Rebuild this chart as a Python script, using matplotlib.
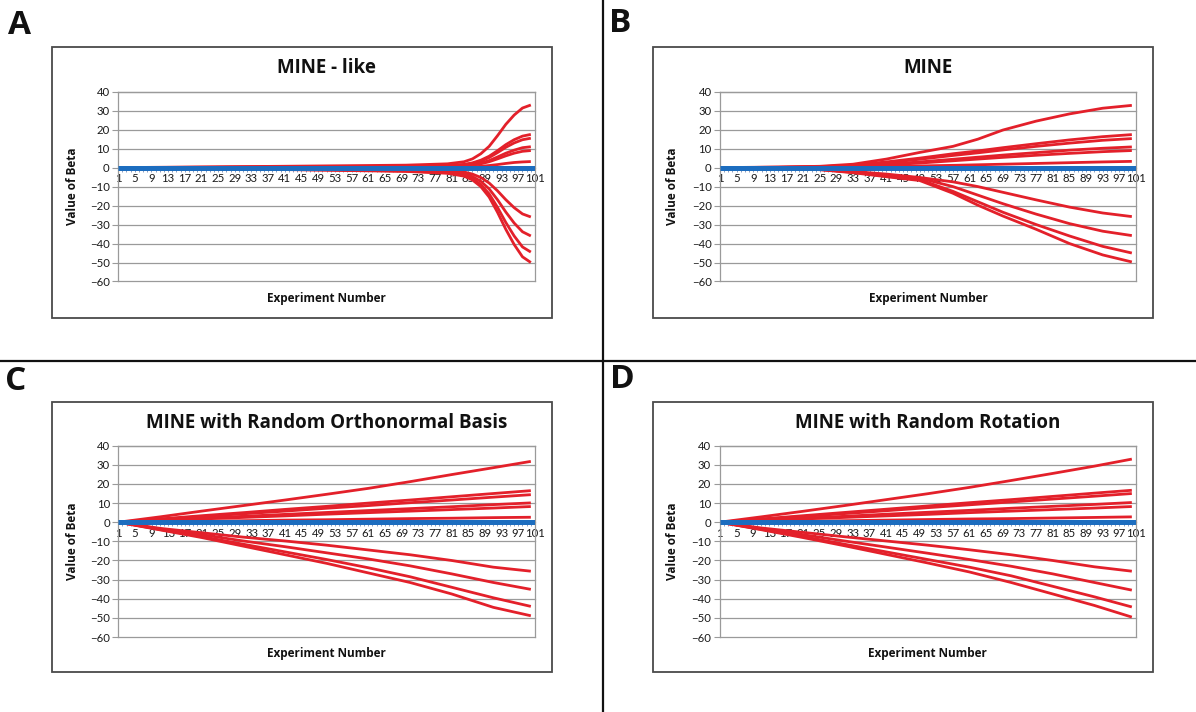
import matplotlib
matplotlib.use("Agg")
import matplotlib.pyplot as plt
from matplotlib.patches import Rectangle
from matplotlib.lines import Line2D
import numpy as np

plt.rcParams['font.family'] = ['Open Sans', 'DejaVu Sans']

# ---- data ----
blue_x = [1, 101]
blue_y = [0, 0]

# A : MINE - like (sigmoid near the end)
a_x = [1, 40, 70, 80, 84, 86, 88, 90, 92, 94, 96, 98, 100]
a_lines = [
    [0, 0.7, 1.3, 2.0, 3.1, 4.6, 7.3, 11.2, 16.8, 22.8, 27.7, 31.4, 33.0],
    [0, 0.4, 0.7, 1.1, 1.7, 2.5, 3.9, 6.0, 8.9, 12.1, 14.7, 16.6, 17.5],
    [0, 0.3, 0.6, 0.9, 1.5, 2.2, 3.4, 5.3, 7.9, 10.7, 13.0, 14.7, 15.5],
    [0, 0.2, 0.4, 0.7, 1.0, 1.5, 2.4, 3.7, 5.6, 7.6, 9.2, 10.5, 11.0],
    [0, 0.2, 0.4, 0.5, 0.9, 1.3, 2.0, 3.1, 4.6, 6.2, 7.6, 8.6, 9.0],
    [0, 0.1, 0.1, 0.2, 0.3, 0.4, 0.7, 1.1, 1.6, 2.2, 2.7, 3.0, 3.2],
    [0, -0.5, -1.0, -1.6, -2.3, -3.4, -5.2, -8.1, -12.2, -16.9, -21.1, -24.4, -26.0],
    [0, -0.7, -1.4, -2.2, -3.2, -4.7, -7.2, -11.2, -16.9, -23.4, -29.2, -33.8, -36.0],
    [0, -0.9, -1.8, -2.7, -4.0, -5.8, -8.9, -13.8, -20.9, -28.9, -36.0, -41.8, -44.5],
    [0, -1.0, -2.0, -3.0, -4.5, -6.5, -10.0, -15.5, -23.5, -32.5, -40.5, -47.0, -50.0],
]

# B : MINE
b_x = [1, 15, 25, 33, 41, 49, 57, 63, 69, 77, 85, 93, 100]
b_lines = [
    [0, 0.3, 0.7, 1.8, 4.5, 8.0, 11.2, 15.0, 19.8, 24.5, 28.3, 31.3, 32.8],
    [0, 0.2, 0.5, 1.3, 3.0, 5.0, 7.3, 8.8, 10.5, 12.6, 14.6, 16.3, 17.4],
    [0, 0.2, 0.4, 1.1, 2.6, 4.4, 6.4, 7.8, 9.3, 11.2, 12.9, 14.4, 15.3],
    [0, 0.1, 0.3, 0.8, 1.8, 3.0, 4.4, 5.5, 6.6, 7.9, 9.2, 10.2, 10.9],
    [0, 0.1, 0.2, 0.6, 1.4, 2.4, 3.6, 4.5, 5.4, 6.5, 7.5, 8.4, 9.0],
    [0, 0.0, 0.1, 0.3, 0.6, 0.9, 1.2, 1.5, 1.8, 2.2, 2.6, 3.0, 3.3],
    [0, -0.3, -0.8, -2.0, -3.4, -5.2, -7.5, -10.0, -13.0, -17.0, -20.8, -23.9, -25.8],
    [0, -0.3, -0.9, -2.3, -4.0, -5.5, -10.0, -14.5, -19.0, -24.5, -29.5, -33.5, -35.8],
    [0, -0.4, -1.0, -2.5, -4.5, -6.3, -12.5, -18.0, -23.5, -30.0, -36.0, -41.5, -45.0],
    [0, -0.4, -1.1, -2.7, -4.8, -6.8, -13.5, -19.8, -25.5, -32.5, -40.0, -46.0, -49.7],
]

# C : MINE with Random Orthonormal Basis
c_x = [1, 11, 21, 31, 41, 51, 61, 71, 81, 91, 100]
c_lines = [
    [0, 2.8, 5.8, 8.7, 11.6, 14.6, 17.7, 21.2, 24.9, 28.5, 31.8],
    [0, 1.7, 3.4, 5.0, 6.7, 8.3, 10.0, 11.6, 13.3, 15.0, 16.5],
    [0, 1.5, 3.0, 4.4, 5.8, 7.3, 8.7, 10.2, 11.6, 13.1, 14.4],
    [0, 1.0, 2.1, 3.1, 4.1, 5.1, 6.1, 7.1, 8.1, 9.2, 10.1],
    [0, 0.8, 1.7, 2.5, 3.3, 4.2, 5.0, 5.8, 6.6, 7.4, 8.2],
    [0, 0.3, 0.5, 0.8, 1.1, 1.3, 1.6, 1.9, 2.1, 2.4, 2.6],
    [0, -3.2, -5.5, -7.8, -9.8, -12.0, -14.5, -17.0, -20.0, -23.5, -25.6],
    [0, -3.5, -6.5, -9.8, -12.8, -16.0, -19.2, -22.8, -27.0, -31.5, -35.1],
    [0, -3.8, -7.5, -11.5, -15.5, -19.5, -23.8, -28.5, -34.0, -39.5, -44.0],
    [0, -4.0, -8.0, -12.5, -17.0, -21.5, -26.5, -31.5, -37.5, -44.5, -48.9],
]

# D : MINE with Random Rotation
d_x = [1, 11, 21, 31, 41, 51, 61, 71, 81, 91, 100]
d_lines = [
    [0, 2.8, 5.7, 8.7, 11.8, 14.9, 18.2, 21.8, 25.5, 29.3, 33.0],
    [0, 1.7, 3.4, 5.1, 6.8, 8.5, 10.2, 11.8, 13.5, 15.2, 16.7],
    [0, 1.5, 3.0, 4.5, 6.0, 7.6, 9.1, 10.6, 12.1, 13.6, 15.0],
    [0, 1.0, 2.1, 3.1, 4.2, 5.2, 6.2, 7.3, 8.3, 9.3, 10.3],
    [0, 0.8, 1.7, 2.5, 3.3, 4.1, 5.0, 5.8, 6.6, 7.4, 8.2],
    [0, 0.3, 0.5, 0.8, 1.1, 1.4, 1.7, 1.9, 2.2, 2.5, 2.8],
    [0, -3.0, -5.3, -7.6, -9.8, -12.0, -14.4, -17.0, -20.0, -23.3, -25.6],
    [0, -3.4, -6.5, -9.8, -13.0, -16.2, -19.5, -23.0, -27.0, -31.5, -35.5],
    [0, -3.7, -7.5, -11.5, -15.5, -19.5, -23.5, -28.0, -33.5, -39.0, -44.3],
    [0, -3.9, -8.0, -12.3, -16.8, -21.3, -26.0, -31.5, -37.5, -43.5, -49.6],
]

titles = ["MINE - like", "MINE", "MINE with Random Orthonormal Basis", "MINE with Random Rotation"]
letters = ["A", "B", "C", "D"]
y_ticks = [40, 30, 20, 10, 0, -10, -20, -30, -40, -50, -60]
x_labels = list(range(1, 102, 4))

W, H = 1196, 712
fig = plt.figure(figsize=(W / 100, H / 100), dpi=100)


def fx(px):
    return px / W


def fy(py):
    return 1 - py / H


# panel geometry in pixels: box (x0, y0, x1, y1), plot (left, top, right, bottom)
boxes = [(52, 47, 552, 318), (653, 47, 1153, 318), (52, 402, 552, 672), (653, 402, 1153, 672)]
plots = [(118, 91.7, 535, 281.5), (720, 91.7, 1136, 281.5),
         (118.3, 445.7, 535, 637), (719.5, 445.7, 1136, 637)]
letter_pos = [(20, 25), (620, 24), (16, 382), (622, 380)]
panel_x = [a_x, b_x, c_x, d_x]
panel_lines = [a_lines, b_lines, c_lines, d_lines]

red = '#e3202a'
blue = '#1c6dbf'
grey = '#9a9a9a'
tick_font = ['Liberation Sans Narrow', 'Lato', 'DejaVu Sans']

for i in range(4):
    bx0, by0, bx1, by1 = boxes[i]
    fig.add_artist(Rectangle((fx(bx0), fy(by1)), fx(bx1 - bx0), (by1 - by0) / H,
                             transform=fig.transFigure, fill=False, edgecolor='#4a4a4a', lw=1.3))
    l, t, r, b = plots[i]
    ax = fig.add_axes([fx(l), fy(b), fx(r - l), (b - t) / H])

    for yy in panel_lines[i]:
        ax.plot(panel_x[i], yy, color=red, lw=2.0, solid_capstyle='butt', zorder=2)
    ax.plot(blue_x, blue_y, color=blue, lw=3.6, solid_capstyle='butt', zorder=3)

    ax.set_xlim(1, 101)
    ax.set_ylim(-60, 40)
    ax.set_yticks(y_ticks)
    ax.yaxis.grid(True, color=grey, lw=0.9)
    for gl in ax.yaxis.get_gridlines():
        gl.set_clip_on(False)
    ax.set_axisbelow(True)
    ax.set_xticks(x_labels)
    ax.set_xticklabels([str(v) for v in x_labels])
    ax.set_xticks(range(1, 102), minor=True)
    ax.spines['bottom'].set_position(('data', 0))
    ax.spines['bottom'].set_visible(False)
    for s in ['left', 'right', 'top']:
        ax.spines[s].set_color(grey)
        ax.spines[s].set_linewidth(0.9)
    ax.tick_params(axis='x', which='both', direction='out', length=3, width=0.7,
                   color='#8a9cc0', pad=1, labelsize=8.2, labelcolor='#1a1a1a')
    ax.tick_params(axis='y', direction='out', length=4, width=0.8, color=grey,
                   pad=2, labelsize=8.2, labelcolor='#1a1a1a')
    for lab in ax.get_xticklabels() + ax.get_yticklabels():
        lab.set_family(tick_font)

    cx = (l + r) / 2
    fig.text(fx(cx), fy(by0 + 21), titles[i], ha='center', va='center',
             fontsize=13.5, fontweight='bold', color='#111111')
    fig.text(fx(cx), fy(b + 17), "Experiment Number", ha='center', va='center',
             fontsize=8.5, fontweight='bold', color='#111111')
    fig.text(fx(bx0 + 20), fy((t + b) / 2), "Value of Beta", ha='center', va='center',
             rotation=90, fontsize=8.5, fontweight='bold', color='#111111')
    lx, ly = letter_pos[i]
    fig.text(fx(lx), fy(ly), letters[i], ha='center', va='center',
             fontsize=24, fontweight='bold', color='#111111')

# divider lines between panels
fig.add_artist(Line2D([fx(603), fx(603)], [0, 1], transform=fig.transFigure, color='#111111', lw=1.6))
fig.add_artist(Line2D([0, 1], [fy(360.5), fy(360.5)], transform=fig.transFigure, color='#111111', lw=1.6))

fig.savefig('out.png', dpi=100)
